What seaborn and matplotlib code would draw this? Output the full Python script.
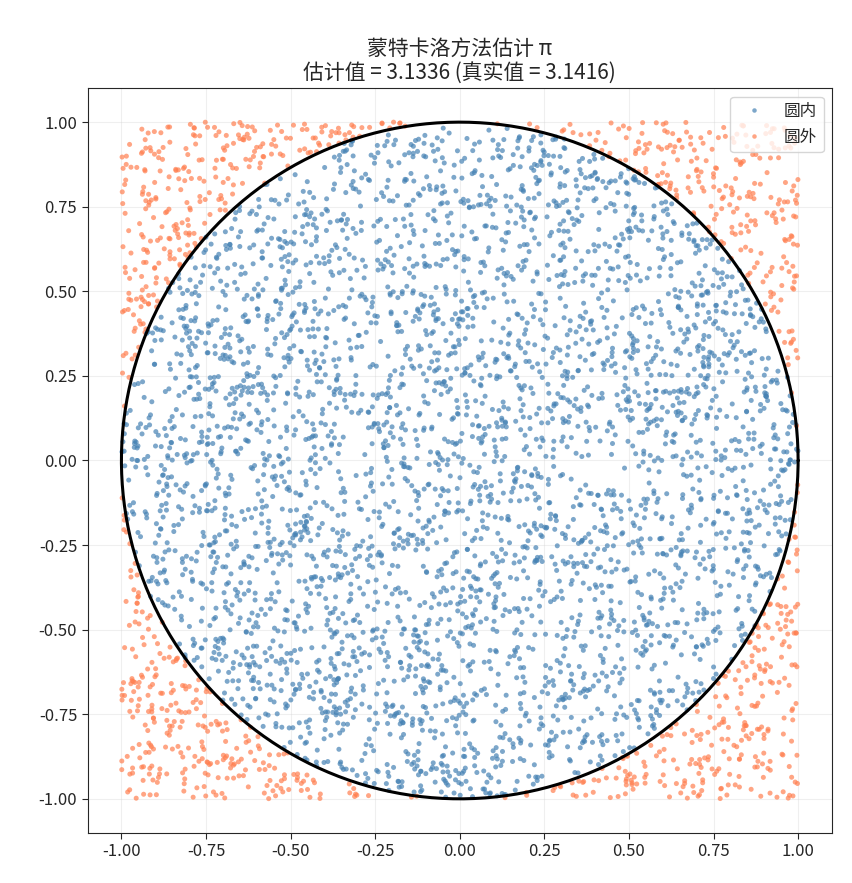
import numpy as np
import pandas as pd
import matplotlib
matplotlib.use("Agg")
import matplotlib.pyplot as plt
import seaborn as sns

sns.set_style("white")
plt.rcParams['font.family'] = ['Noto Sans CJK SC', 'DejaVu Sans']
plt.rcParams['axes.unicode_minus'] = False

# Monte Carlo sample (the chart's data is a random simulation by nature)
n_points = 5000
rng = np.random.default_rng(42)
xs = rng.uniform(-1, 1, n_points)
ys = rng.uniform(-1, 1, n_points)
inside = xs**2 + ys**2 <= 1
labels = np.where(inside, "圆内", "圆外")
df = pd.DataFrame({"x": xs, "y": ys, "where": labels})

title_line1 = "蒙特卡洛方法估计 π"
title_line2 = "估计值 = 3.1336 (真实值 = 3.1416)"

fig, ax = plt.subplots(figsize=(8.53, 8.83), dpi=100)
sns.scatterplot(data=df, x="x", y="y", hue="where", hue_order=["圆内", "圆外"],
                palette={"圆内": "steelblue", "圆外": "coral"},
                s=13, alpha=0.7, linewidth=0, ax=ax)
theta = np.linspace(0, 2 * np.pi, 400)
ax.plot(np.cos(theta), np.sin(theta), color="black", lw=2.2)
ax.set_aspect("equal")
ax.set_xlim(-1.1, 1.1)
ax.set_ylim(-1.1, 1.1)
ticks = [-1.0, -0.75, -0.5, -0.25, 0.0, 0.25, 0.5, 0.75, 1.0]
ax.set_xticks(ticks)
ax.set_yticks(ticks)
ax.set_xticklabels([f"{t:.2f}" for t in ticks], fontsize=12)
ax.set_yticklabels([f"{t:.2f}" for t in ticks], fontsize=12)
ax.set_xlabel("")
ax.set_ylabel("")
ax.grid(True, alpha=0.3)
ax.tick_params(left=True, bottom=True, length=4)
ax.set_title(title_line1 + "\n" + title_line2, fontsize=15)
ax.legend(loc="upper right", fontsize=12, markerscale=0.9)
fig.subplots_adjust(left=0.096, right=0.982, top=0.900, bottom=0.057)
fig.savefig("out.png", dpi=100)
